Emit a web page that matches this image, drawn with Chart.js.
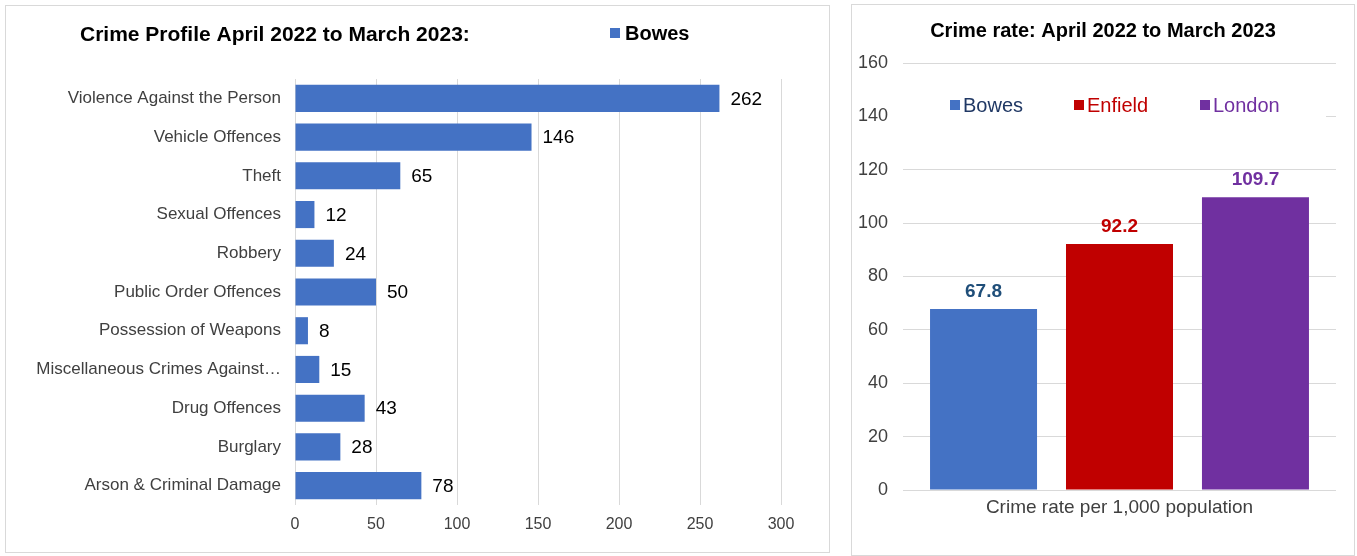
<!DOCTYPE html>
<html>
<head>
<meta charset="utf-8">
<script src="https://cdn.jsdelivr.net/npm/chart.js@4.4.1/dist/chart.umd.min.js"></script>
<style>
  body { margin: 0; background: #fff; font-family: "Liberation Sans", Arial, sans-serif; }
  .panel { position: absolute; border: 1px solid #d9d9d9; box-sizing: border-box; background: #fff; }
  #profilePanel { left: 5px; top: 5px; width: 825px; height: 548px; }
  #ratePanel { left: 851px; top: 4px; width: 504px; height: 552px; }
</style>
</head>
<body>
<div class="panel" id="profilePanel"><canvas id="profileChart"></canvas></div>
<div class="panel" id="ratePanel"><canvas id="rateChart"></canvas></div>
<script>
const FONT = "'Liberation Sans', Arial, sans-serif";

// Crime profile (left)
const crimeTypes = [
  "Violence Against the Person",
  "Vehicle Offences",
  "Theft",
  "Sexual Offences",
  "Robbery",
  "Public Order Offences",
  "Possession of Weapons",
  "Miscellaneous Crimes Against Society",
  "Drug Offences",
  "Burglary",
  "Arson & Criminal Damage"
];
const bowesCounts = [262, 146, 65, 12, 24, 50, 8, 15, 43, 28, 78];
const profileTicks = [0, 50, 100, 150, 200, 250, 300];

// Crime rate (right)
const rateAreas = ["Bowes", "Enfield", "London"];
const rateValues = [67.8, 92.2, 109.7];
const rateCategory = ["Crime rate per 1,000 population"];
const rateTicks = [0, 20, 40, 60, 80, 100, 120, 140, 160];

const barColors = ["#4472C4", "#C00000", "#7030A0"];
const legendTextColors = ["#203864", "#C00000", "#7030A0"];
const valueTextColors = ["#1F4E79", "#C00000", "#7030A0"];

Chart.defaults.font.family = FONT;
Chart.defaults.animation = false;

// left chart: title, legend and value labels
const profileText = {
  id: "profileText",
  afterDraw(chart) {
    const ctx = chart.ctx;
    ctx.save();
    ctx.textBaseline = "middle";
    ctx.fillStyle = "#000";
    ctx.font = "bold 21px " + FONT;
    ctx.textAlign = "left";
    ctx.fillText("Crime Profile April 2022 to March 2023:", 74, 29);

    ctx.fillStyle = "#4472C4";
    ctx.fillRect(604, 22, 10, 10);
    ctx.fillStyle = "#000";
    ctx.font = "bold 20px " + FONT;
    ctx.fillText("Bowes", 619, 28);

    ctx.font = "19px " + FONT;
    ctx.fillStyle = "#000";
    const meta = chart.getDatasetMeta(0);
    meta.data.forEach((bar, i) => {
      ctx.fillText(String(bowesCounts[i]), bar.x + 11, bar.y + 1);
    });
    ctx.restore();
  }
};

new Chart(document.getElementById("profileChart"), {
  type: "bar",
  data: {
    labels: crimeTypes,
    datasets: [{
      label: "Bowes",
      data: bowesCounts,
      backgroundColor: "#4472C4",
      barPercentage: 0.7,
      categoryPercentage: 1
    }]
  },
  options: {
    indexAxis: "y",
    responsive: true,
    maintainAspectRatio: false,
    layout: { padding: { top: 73, right: 48, bottom: 7, left: 0 } },
    plugins: { legend: { display: false }, tooltip: { enabled: false } },
    scales: {
      x: {
        min: 0,
        max: 300,
        afterBuildTicks(scale) { scale.ticks = profileTicks.map(v => ({ value: v })); },
        afterFit(scale) { scale.height = 40; },
        grid: { color: "#d9d9d9", drawTicks: false },
        border: { display: false },
        ticks: { color: "#404040", font: { size: 16 }, padding: 10 }
      },
      y: {
        afterFit(scale) { scale.width = 289; },
        grid: { display: false, drawTicks: false },
        border: { display: false },
        ticks: {
          color: "#404040",
          font: { size: 17 },
          padding: 14,
          callback(value) {
            const name = crimeTypes[value];
            return name.length > 28 ? name.slice(0, 28) + "…" : name;
          }
        }
      }
    }
  },
  plugins: [profileText]
});

// right chart: title, legend with white box and value labels
const rateText = {
  id: "rateText",
  afterDraw(chart) {
    const ctx = chart.ctx;
    const area = chart.chartArea;
    ctx.save();
    ctx.textBaseline = "middle";
    ctx.textAlign = "center";
    ctx.fillStyle = "#000";
    ctx.font = "bold 20px " + FONT;
    ctx.fillText("Crime rate: April 2022 to March 2023", 251, 26);

    // legend
    ctx.fillStyle = "#fff";
    ctx.fillRect(area.left, 88, 474 - area.left, 26);
    const legendX = [98, 222, 348];
    ctx.font = "20px " + FONT;
    ctx.textAlign = "left";
    rateAreas.forEach((name, i) => {
      ctx.fillStyle = barColors[i];
      ctx.fillRect(legendX[i], 95, 10, 10);
      ctx.fillStyle = legendTextColors[i];
      ctx.fillText(name, legendX[i] + 13, 101);
    });

    // value labels
    ctx.font = "bold 19px " + FONT;
    ctx.textAlign = "center";
    rateValues.forEach((v, i) => {
      const bar = chart.getDatasetMeta(i).data[0];
      ctx.fillStyle = valueTextColors[i];
      ctx.fillText(v.toFixed(1), bar.x, bar.y - 17);
    });
    ctx.restore();
  }
};

new Chart(document.getElementById("rateChart"), {
  type: "bar",
  data: {
    labels: rateCategory,
    datasets: rateAreas.map((name, i) => ({
      label: name,
      data: [rateValues[i]],
      backgroundColor: barColors[i],
      barPercentage: 0.787,
      categoryPercentage: 0.942
    }))
  },
  options: {
    responsive: true,
    maintainAspectRatio: false,
    layout: { padding: { top: 58, right: 18, bottom: 25, left: 0 } },
    plugins: { legend: { display: false }, tooltip: { enabled: false } },
    scales: {
      x: {
        afterFit(scale) { scale.height = 40; },
        grid: { display: false, drawTicks: false },
        border: { display: false },
        ticks: { color: "#404040", font: { size: 19 }, padding: 6 }
      },
      y: {
        min: 0,
        max: 160,
        afterBuildTicks(scale) { scale.ticks = rateTicks.map(v => ({ value: v })); },
        afterFit(scale) { scale.width = 51; },
        grid: { color: "#d9d9d9", drawTicks: false },
        border: { display: false },
        ticks: { color: "#404040", font: { size: 18 }, padding: 15 }
      }
    }
  },
  plugins: [rateText]
});
</script>
</body>
</html>
